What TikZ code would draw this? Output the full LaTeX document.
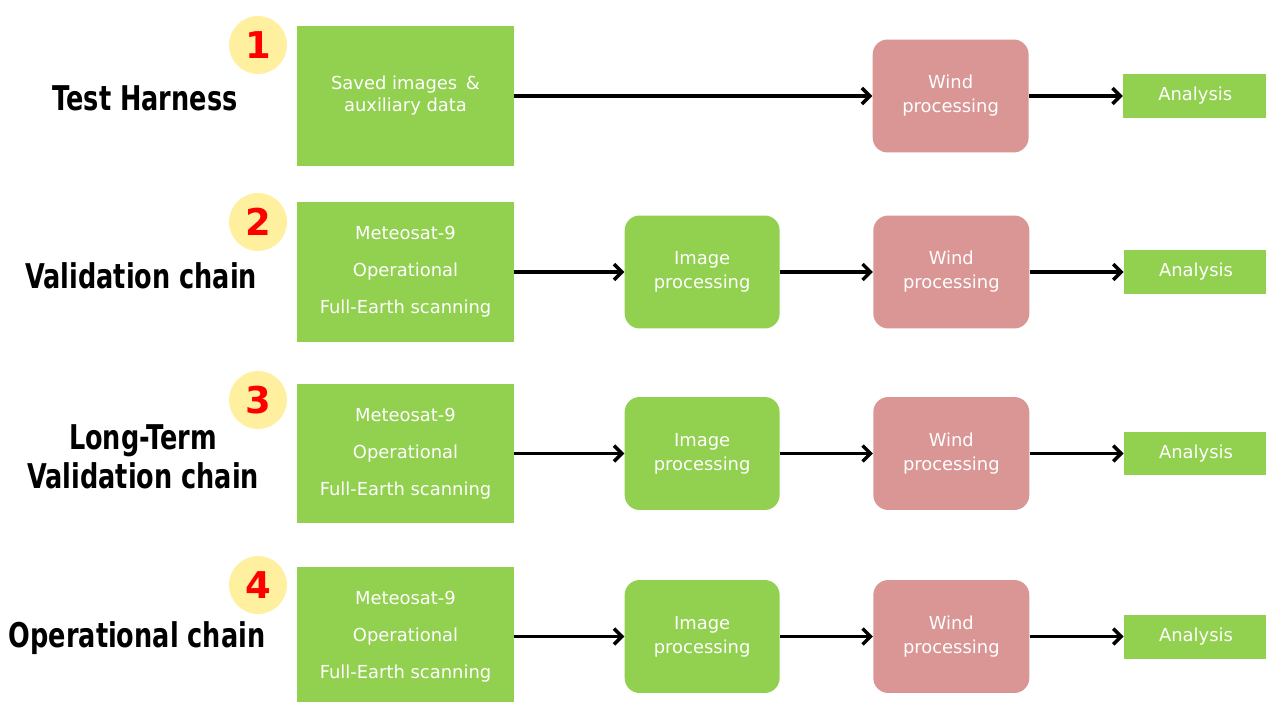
\documentclass[tikz,border=0pt]{standalone}
\usepackage{fontspec}
\setmainfont{DejaVu Sans}
\newfontfamily\lblfont{DejaVu Sans}[FakeStretch=0.75]
\usetikzlibrary{positioning, arrows.meta}
\definecolor{boxgreen}{HTML}{92D050}
\definecolor{windred}{HTML}{D99694}
\definecolor{numyellow}{HTML}{FFF0A0}

\tikzset{
    source/.style={fill=boxgreen, minimum width=4.34cm, minimum height=2.8cm, inner sep=0pt,
        text=white, align=center, font=\fontsize{10.2}{21}\selectfont},
    imgbox/.style={fill=boxgreen, rounded corners=0.3cm, minimum width=3.1cm, minimum height=2.26cm,
        inner sep=0pt, text=white, align=center, font=\fontsize{10.2}{13.6}\selectfont},
    windbox/.style={imgbox, fill=windred, minimum width=3.12cm},
    anabox/.style={fill=boxgreen, minimum width=2.88cm, minimum height=0.88cm, inner sep=0pt,
        text=white, font=\fontsize{10.2}{13}\selectfont},
    chain/.style={align=center, font=\lblfont\bfseries\fontsize{19.4}{22}\selectfont},
    num/.style={circle, fill=numyellow, minimum size=1.16cm, inner sep=0pt, text=red,
        font=\bfseries\fontsize{21}{24}\selectfont},
    flow/.style={-{Straight Barb[length=4.5pt, width=9pt]}, line width=2pt}
}

\begin{document}
\begin{tikzpicture}[x=0.02cm, y=-0.02cm]
    \useasboundingbox (0,0) rectangle (1266,702);

    \node[chain] (harness) at (145, 98) {Test Harness};
    \node[num] (num1) at (258, 45) {1};
    \node[source] (src1) at (405.5, 96) {Saved images \,\&\\[-8.5pt]auxiliary data};
    \node[windbox, right = 7.16cm of src1] (wind1) {Wind\\processing};
    \node[anabox, right = 1.88cm of wind1] (ana1) {Analysis};
    \draw[flow] (src1) -- (wind1);
    \draw[flow] (wind1) -- (ana1);

    \node[chain] (valid) at (141, 276) {Validation chain};
    \node[num] (num2) at (258, 222) {2};
    \node[source] (src2) at (405.5, 272) {Meteosat-9\\Operational\\Full-Earth scanning};
    \node[imgbox, right = 2.2cm of src2] (img2) {Image\\processing};
    \node[windbox, right = 1.86cm of img2] (wind2) {Wind\\processing};
    \node[anabox, right = 1.88cm of wind2] (ana2) {Analysis};
    \draw[flow] (src2) -- (img2);
    \draw[flow] (img2) -- (wind2);
    \draw[flow] (wind2) -- (ana2);

    \node[chain] (longterm) at (143, 457) {Long-Term\\Validation chain};
    \node[num] (num3) at (258, 400) {3};
    \node[source] (src3) at (405.5, 453.5) {Meteosat-9\\Operational\\Full-Earth scanning};
    \node[imgbox, right = 2.2cm of src3] (img3) {Image\\processing};
    \node[windbox, right = 1.86cm of img3] (wind3) {Wind\\processing};
    \node[anabox, right = 1.88cm of wind3] (ana3) {Analysis};
    \draw[flow] (src3) -- (img3);
    \draw[flow] (img3) -- (wind3);
    \draw[flow] (wind3) -- (ana3);

    \node[chain] (oper) at (137, 638) {Operational chain};
    \node[num] (num4) at (258, 585) {4};
    \node[source] (src4) at (405.5, 636.5) {Meteosat-9\\Operational\\Full-Earth scanning};
    \node[imgbox, right = 2.2cm of src4] (img4) {Image\\processing};
    \node[windbox, right = 1.86cm of img4] (wind4) {Wind\\processing};
    \node[anabox, right = 1.88cm of wind4] (ana4) {Analysis};
    \draw[flow] (src4) -- (img4);
    \draw[flow] (img4) -- (wind4);
    \draw[flow] (wind4) -- (ana4);
\end{tikzpicture}
\end{document}
